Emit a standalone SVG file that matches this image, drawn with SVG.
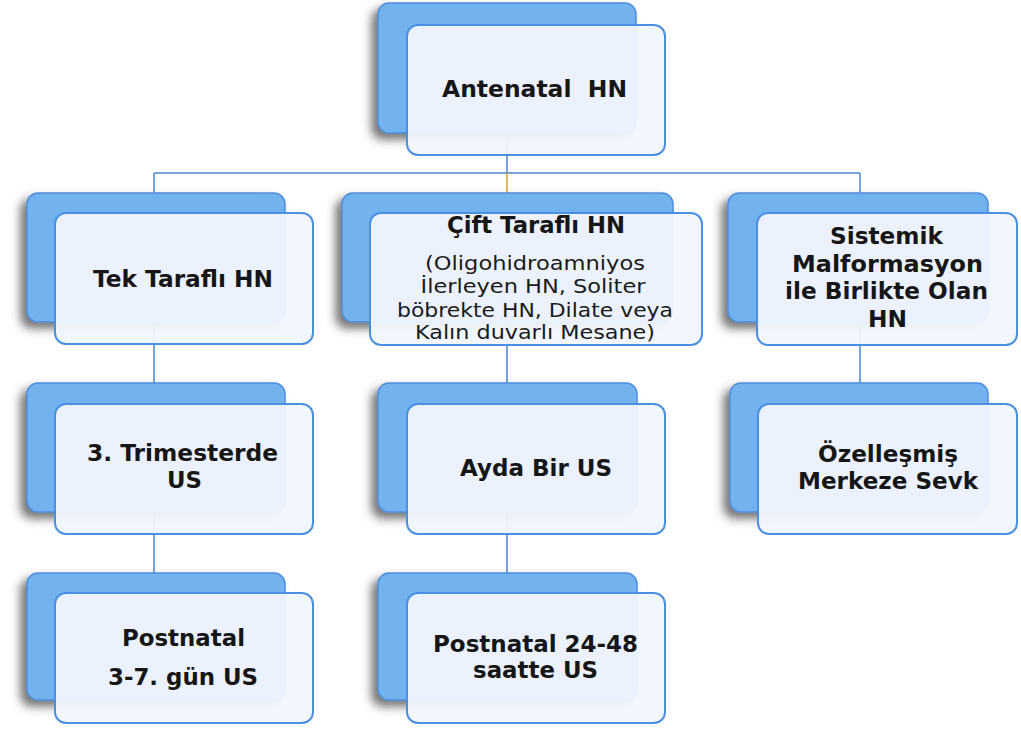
<svg xmlns="http://www.w3.org/2000/svg" width="1021" height="729" viewBox="0 0 1021 729">
<defs>
<filter id="sh" x="-15%" y="-15%" width="130%" height="140%">
<feDropShadow dx="-6" dy="6" stdDeviation="5" flood-color="#3a3a3a" flood-opacity="0.7"/>
</filter>
<style>
.back{fill:#72b2ef;stroke:#4e8fdc;stroke-width:1.5;filter:url(#sh)}
.front{fill:#f1f6fd;fill-opacity:0.95;stroke:#4a90e2;stroke-width:2}
.ln{stroke:#4a86cf;stroke-width:1.5;fill:none}
.t{font-family:"DejaVu Sans",sans-serif;font-weight:bold;font-size:23px;fill:#161616;text-anchor:middle}
.s{font-family:"DejaVu Sans",sans-serif;font-size:20px;fill:#1a1a1a;text-anchor:middle}
</style>
</defs>
<rect width="1021" height="729" fill="#ffffff"/>
<g id="connectors">
<path class="ln" d="M507 133V173M154 173H860M154 173V193M860 173V193"/>
<path d="M507 173V193" stroke="#d9a52a" stroke-width="1.5"/>
<path class="ln" d="M154 322V383M507 322V383M860 322V383M154 512V573M507 512V573"/>
</g>
<g id="n-antenatal">
<rect class="back" x="378" y="3" width="258" height="130" rx="11"/>
<rect class="front" x="407" y="25" width="258" height="130" rx="11"/>
<text class="t" x="534.5" y="97" xml:space="preserve" textLength="185" lengthAdjust="spacingAndGlyphs">Antenatal  HN</text>
</g>
<g id="n-tek">
<rect class="back" x="27" y="193" width="258" height="129" rx="11"/>
<rect class="front" x="55" y="213" width="258" height="131" rx="11"/>
<text class="t" x="183" y="287" textLength="180" lengthAdjust="spacingAndGlyphs">Tek Taraflı HN</text>
</g>
<g id="n-cift">
<rect class="back" x="342" y="193" width="331" height="129" rx="11"/>
<rect class="front" x="370" y="213" width="332" height="132" rx="11"/>
<text class="t" x="536" y="233" textLength="178" lengthAdjust="spacingAndGlyphs">Çift Taraflı HN</text>
<text class="s" x="535" y="270" textLength="220" lengthAdjust="spacingAndGlyphs">(Oligohidroamniyos</text>
<text class="s" x="533" y="293" textLength="225" lengthAdjust="spacingAndGlyphs">İlerleyen HN, Soliter</text>
<text class="s" x="535" y="317" textLength="276" lengthAdjust="spacingAndGlyphs">böbrekte HN, Dilate veya</text>
<text class="s" x="535" y="339" textLength="240" lengthAdjust="spacingAndGlyphs">Kalın duvarlı Mesane)</text>
</g>
<g id="n-sistemik">
<rect class="back" x="728" y="193" width="260" height="129" rx="11"/>
<rect class="front" x="757" y="213" width="260" height="132" rx="11"/>
<text class="t" x="886.5" y="244" textLength="113" lengthAdjust="spacingAndGlyphs">Sistemik</text>
<text class="t" x="887.5" y="272" textLength="191" lengthAdjust="spacingAndGlyphs">Malformasyon</text>
<text class="t" x="886.5" y="299" textLength="203" lengthAdjust="spacingAndGlyphs">ile Birlikte Olan</text>
<text class="t" x="887.5" y="327" textLength="39" lengthAdjust="spacingAndGlyphs">HN</text>
</g>
<g id="n-trimester">
<rect class="back" x="27" y="383" width="258" height="129" rx="11"/>
<rect class="front" x="55" y="404" width="258" height="130" rx="11"/>
<text class="t" x="182.5" y="461" textLength="191" lengthAdjust="spacingAndGlyphs">3. Trimesterde</text>
<text class="t" x="184.5" y="488" textLength="35" lengthAdjust="spacingAndGlyphs">US</text>
</g>
<g id="n-ayda">
<rect class="back" x="378" y="383" width="259" height="129" rx="11"/>
<rect class="front" x="407" y="404" width="258" height="130" rx="11"/>
<text class="t" x="536" y="476" textLength="152" lengthAdjust="spacingAndGlyphs">Ayda Bir US</text>
</g>
<g id="n-ozel">
<rect class="back" x="730" y="383" width="258" height="129" rx="11"/>
<rect class="front" x="758" y="404" width="259" height="130" rx="11"/>
<text class="t" x="888" y="462" textLength="140" lengthAdjust="spacingAndGlyphs">Özelleşmiş</text>
<text class="t" x="888" y="489" textLength="180" lengthAdjust="spacingAndGlyphs">Merkeze Sevk</text>
</g>
<g id="n-postnatal1">
<rect class="back" x="27" y="573" width="258" height="127" rx="11"/>
<rect class="front" x="55" y="593" width="258" height="130" rx="11"/>
<text class="t" x="183.5" y="646" textLength="123" lengthAdjust="spacingAndGlyphs">Postnatal</text>
<text class="t" x="183" y="685" textLength="150" lengthAdjust="spacingAndGlyphs">3-7. gün US</text>
</g>
<g id="n-postnatal2">
<rect class="back" x="378" y="573" width="259" height="127" rx="11"/>
<rect class="front" x="407" y="593" width="258" height="130" rx="11"/>
<text class="t" x="535.5" y="652" textLength="205" lengthAdjust="spacingAndGlyphs">Postnatal 24-48</text>
<text class="t" x="535.5" y="678" textLength="125" lengthAdjust="spacingAndGlyphs">saatte US</text>
</g>
</svg>
